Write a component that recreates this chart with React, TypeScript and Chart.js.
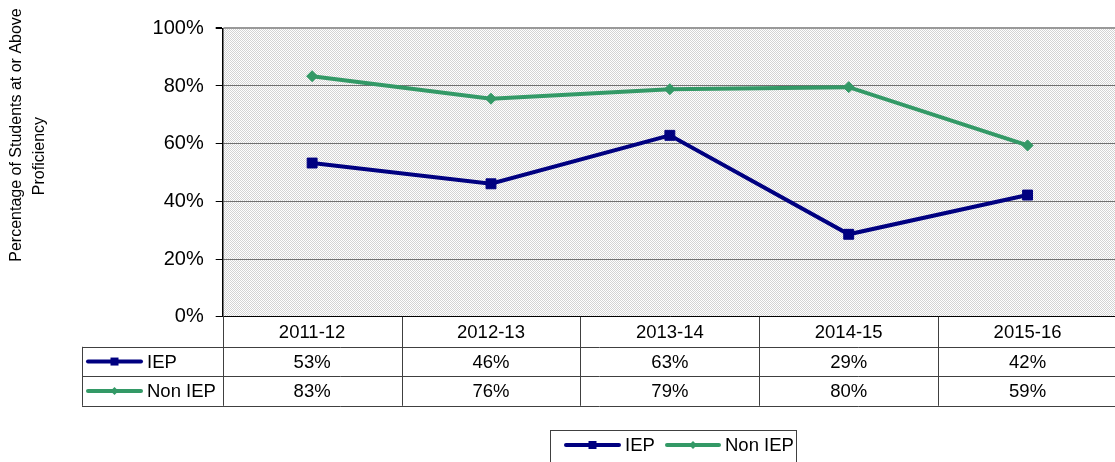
import React, { useEffect, useRef } from "react";
import { Chart, registerables } from "chart.js";

Chart.register(...registerables);

const categories = ["2011-12", "2012-13", "2013-14", "2014-15", "2015-16"];
const iepValues = [53.3, 46.1, 62.9, 28.6, 42.2];
const nonIepValues = [83.4, 75.6, 78.9, 79.6, 59.4];
const seriesNames = ["IEP", "Non IEP"];
const yTitleLines = ["Percentage of Students at or Above", "Proficiency"];

const IEP_COLOR = "#000080";
const NON_COLOR = "#339966";
const FONT = "Liberation Sans, Arial, sans-serif";

function drawMarker(ctx: CanvasRenderingContext2D, x: number, y: number, color: string, style: string, s: number) {
  ctx.save();
  ctx.fillStyle = color;
  ctx.beginPath();
  if (style === "rect") {
    ctx.rect(x - s / 2, y - s / 2, s, s);
  } else {
    ctx.moveTo(x, y - s / 2);
    ctx.lineTo(x + s / 2, y);
    ctx.lineTo(x, y + s / 2);
    ctx.lineTo(x - s / 2, y);
    ctx.closePath();
  }
  ctx.fill();
  ctx.restore();
}

function drawKey(ctx: CanvasRenderingContext2D, x1: number, x2: number, y: number, color: string, style: string, s: number) {
  ctx.save();
  ctx.strokeStyle = color;
  ctx.lineWidth = 4;
  ctx.lineCap = "round";
  ctx.beginPath();
  ctx.moveTo(x1, y);
  ctx.lineTo(x2, y);
  ctx.stroke();
  ctx.restore();
  drawMarker(ctx, (x1 + x2) / 2, y, color, style, s);
}

const bgPlugin = {
  id: "bgPattern",
  beforeDraw(chart: any) {
    const { ctx, chartArea } = chart;
    ctx.save();
    ctx.fillStyle = "#ffffff";
    ctx.fillRect(0, 0, chart.width, chart.height);
    const tile = document.createElement("canvas");
    tile.width = 4;
    tile.height = 4;
    const t = tile.getContext("2d")!;
    t.fillStyle = "#ffffff";
    t.fillRect(0, 0, 4, 4);
    t.fillStyle = "#d4d4d4";
    for (let yy = 0; yy < 4; yy++) {
      for (let xx = 0; xx < 4; xx++) {
        if ((xx + yy) % 2 === 0) t.fillRect(xx, yy, 1, 1);
      }
    }
    const pat = ctx.createPattern(tile, "repeat");
    if (pat) {
      ctx.fillStyle = pat;
      ctx.fillRect(chartArea.left, chartArea.top, chartArea.right - chartArea.left, chartArea.bottom - chartArea.top);
    }
    ctx.restore();
  },
};

const tablePlugin = {
  id: "dataTable",
  afterDraw(chart: any) {
    const { ctx, chartArea } = chart;
    const { left, right, bottom } = chartArea;
    const xs = chart.scales.x;
    const n = categories.length;
    const W = (right - left) / n;
    const r1 = bottom + 30;
    const r2 = r1 + 29.5;
    const r3 = r2 + 29.5;
    const tableLeft = 82;

    ctx.save();
    ctx.lineWidth = 1;
    ctx.strokeStyle = "#404040";
    for (let i = 0; i <= n; i++) {
      const x = Math.round(left + i * W) + 0.5;
      ctx.beginPath();
      ctx.moveTo(x, bottom);
      ctx.lineTo(x, r3);
      ctx.stroke();
    }
    [r1, r2, r3].forEach((y) => {
      const yy = Math.round(y) + 0.5;
      ctx.beginPath();
      ctx.moveTo(tableLeft, yy);
      ctx.lineTo(right, yy);
      ctx.stroke();
    });
    ctx.beginPath();
    ctx.moveTo(tableLeft + 0.5, r1);
    ctx.lineTo(tableLeft + 0.5, r3);
    ctx.stroke();

    ctx.fillStyle = "#000000";
    ctx.font = "18.5px " + FONT;
    ctx.textAlign = "center";
    ctx.textBaseline = "middle";
    categories.forEach((c, i) => {
      const x = xs.getPixelForValue(i);
      ctx.fillText(c, x, (bottom + r1) / 2 + 1);
      ctx.fillText(Math.round(iepValues[i]) + "%", x, (r1 + r2) / 2 + 1);
      ctx.fillText(Math.round(nonIepValues[i]) + "%", x, (r2 + r3) / 2 + 1);
    });

    // legend keys in table
    const y1 = (r1 + r2) / 2;
    const y2 = (r2 + r3) / 2;
    drawKey(ctx, 88, 141, y1, IEP_COLOR, "rect", 8);
    drawKey(ctx, 88, 141, y2, NON_COLOR, "rectRot", 8);
    ctx.textAlign = "left";
    ctx.fillText(seriesNames[0], 147, y1 + 1);
    ctx.fillText(seriesNames[1], 147, y2 + 1);

    // bottom legend
    ctx.strokeStyle = "#404040";
    ctx.strokeRect(550.5, 430.5, 246, 40);
    drawKey(ctx, 566, 619, 445, IEP_COLOR, "rect", 8);
    drawKey(ctx, 667, 719, 445, NON_COLOR, "rectRot", 8);
    ctx.fillText(seriesNames[0], 625, 446);
    ctx.fillText(seriesNames[1], 725, 446);

    // y title
    ctx.font = "16px " + FONT;
    ctx.textAlign = "center";
    ctx.save();
    ctx.translate(17, 135);
    ctx.rotate(-Math.PI / 2);
    ctx.fillText(yTitleLines[0], 0, 0);
    ctx.restore();
    ctx.save();
    ctx.translate(40, 156);
    ctx.rotate(-Math.PI / 2);
    ctx.fillText(yTitleLines[1], 0, 0);
    ctx.restore();
    ctx.restore();
  },
};

export default function App() {
  const ref = useRef<HTMLCanvasElement | null>(null);
  useEffect(() => {
    if (!ref.current) return;
    const chart = new Chart(ref.current, {
      type: "line",
      data: {
        labels: categories,
        datasets: [
          {
            label: seriesNames[0],
            data: iepValues,
            borderColor: IEP_COLOR,
            backgroundColor: IEP_COLOR,
            borderWidth: 4,
            pointStyle: "rect",
            pointRadius: 7,
            pointBackgroundColor: IEP_COLOR,
            pointBorderColor: IEP_COLOR,
            pointBorderWidth: 1,
            tension: 0,
          },
          {
            label: seriesNames[1],
            data: nonIepValues,
            borderColor: NON_COLOR,
            backgroundColor: NON_COLOR,
            borderWidth: 4,
            pointStyle: "rectRot",
            pointRadius: 5.5,
            pointBackgroundColor: NON_COLOR,
            pointBorderColor: NON_COLOR,
            pointBorderWidth: 1,
            tension: 0,
          },
        ],
      },
      options: {
        responsive: false,
        devicePixelRatio: 1,
        animation: false,
        layout: { padding: { left: 0, right: 4.8, top: 28.3, bottom: 145.2 } },
        plugins: { legend: { display: false }, tooltip: { enabled: false } },
        scales: {
          x: {
            type: "category",
            display: false,
            offset: true,
            grid: { display: false },
          },
          y: {
            min: 0,
            max: 100,
            afterFit: (s: any) => {
              s.width = 222.7;
            },
            ticks: {
              stepSize: 20,
              color: "#000000",
              font: { size: 20, family: FONT },
              padding: 12,
              callback: (v: any) => v + "%",
            },
            grid: {
              color: (c: any) => (c.tick && c.tick.value === 0 ? "#000000" : c.tick && c.tick.value === 100 ? "#999999" : "#707070"),
              lineWidth: (c: any) => (c.tick && c.tick.value === 100 ? 2 : 1),
              tickLength: 7,
              tickColor: "#000000",
              drawTicks: true,
            },
            border: { display: true, color: "#000000", width: 1.5 },
          },
        },
      },
      plugins: [bgPlugin, tablePlugin],
    } as any);
    return () => chart.destroy();
  }, []);

  return (
    <div style={{ position: "fixed", left: 0, top: 0, width: 1115, height: 462, overflow: "hidden", background: "#fff" }}>
      <canvas ref={ref} width={1125} height={462} style={{ width: 1125, height: 462, display: "block" }} />
    </div>
  );
}
